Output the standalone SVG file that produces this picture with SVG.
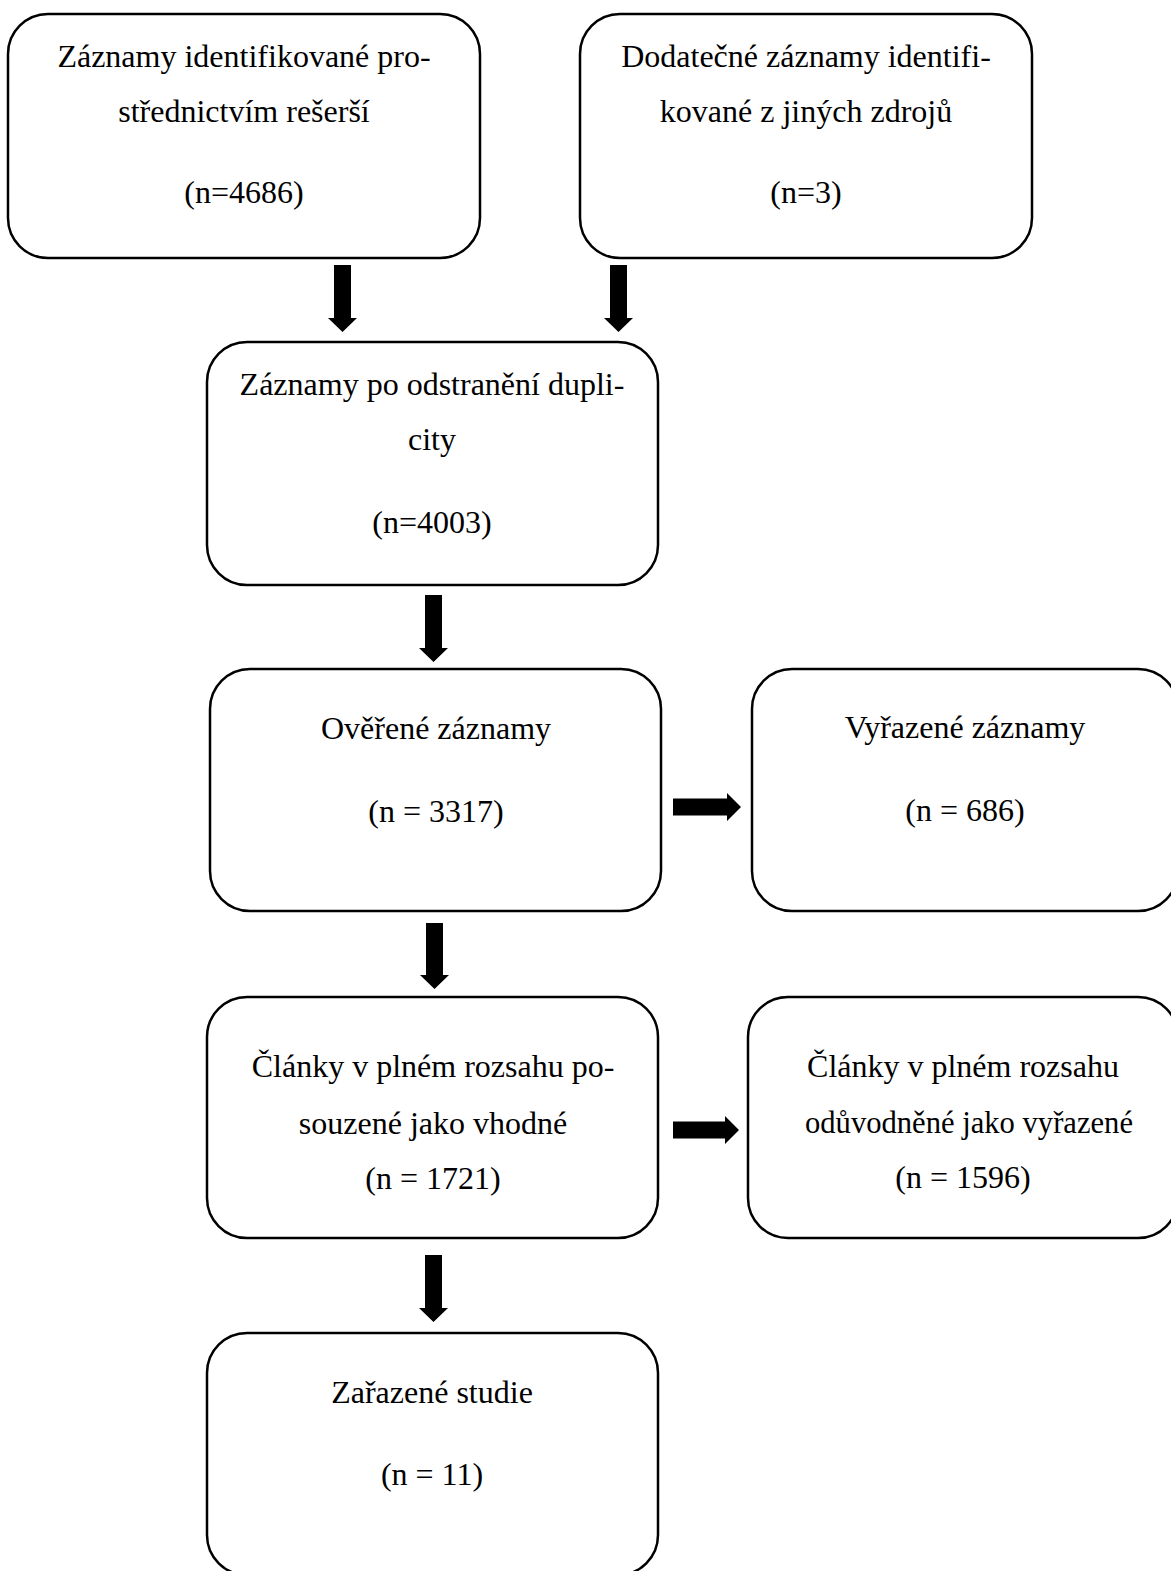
<svg xmlns="http://www.w3.org/2000/svg" width="1171" height="1571" viewBox="0 0 1171 1571">
<style>
.box{fill:#fff;stroke:#000;stroke-width:2.5}
.t{font-family:"Liberation Serif","Times New Roman",serif;font-size:32px;fill:#000;text-anchor:middle}
.arr{fill:#000}
</style>
<rect width="1171" height="1571" fill="#fff"/>
<g id="n1"><rect class="box" x="8" y="14" width="472" height="244" rx="40"/>
<text class="t" x="244" y="67">Záznamy identifikované pro-</text>
<text class="t" x="244" y="122">střednictvím rešerší</text>
<text class="t" x="244" y="203">(n=4686)</text></g>
<g id="n2"><rect class="box" x="580" y="14" width="452" height="244" rx="40"/>
<text class="t" x="806" y="67">Dodatečné záznamy identifi-</text>
<text class="t" x="806" y="122">kované z jiných zdrojů</text>
<text class="t" x="806" y="203">(n=3)</text></g>
<g id="n3"><rect class="box" x="207" y="342" width="451" height="243" rx="40"/>
<text class="t" x="432" y="395">Záznamy po odstranění dupli-</text>
<text class="t" x="432" y="450">city</text>
<text class="t" x="432" y="533">(n=4003)</text></g>
<g id="n4"><rect class="box" x="210" y="669" width="451" height="242" rx="40"/>
<text class="t" x="436" y="739">Ověřené záznamy</text>
<text class="t" x="436" y="822">(n = 3317)</text></g>
<g id="n5"><rect class="box" x="752" y="669" width="426" height="242" rx="40"/>
<text class="t" x="965" y="738">Vyřazené záznamy</text>
<text class="t" x="965" y="821">(n = 686)</text></g>
<g id="n6"><rect class="box" x="207" y="997" width="451" height="241" rx="40"/>
<text class="t" x="433" y="1077">Články v plném rozsahu po-</text>
<text class="t" x="433" y="1134">souzené jako vhodné</text>
<text class="t" x="433" y="1189">(n = 1721)</text></g>
<g id="n7"><rect class="box" x="748" y="997" width="430" height="241" rx="40"/>
<text class="t" x="963" y="1077">Články v plném rozsahu</text>
<text class="t" x="969" y="1133" textLength="328" lengthAdjust="spacingAndGlyphs">odůvodněné jako vyřazené</text>
<text class="t" x="963" y="1188">(n = 1596)</text></g>
<g id="n8"><rect class="box" x="207" y="1333" width="451" height="242" rx="40"/>
<text class="t" x="432" y="1403">Zařazené studie</text>
<text class="t" x="432" y="1485">(n = 11)</text></g>
<g id="connectors">
<polygon class="arr" points="334,265 351,265 351,318 357,318 342.5,332 328,318 334,318"/>
<polygon class="arr" points="610,265 627,265 627,318 633,318 618.5,332 604,318 610,318"/>
<polygon class="arr" points="425,595 442,595 442,648 448,648 433.5,662 419,648 425,648"/>
<polygon class="arr" points="426,923 443,923 443,975 449,975 434.5,989 420,975 426,975"/>
<polygon class="arr" points="425,1255 442,1255 442,1308 448,1308 433.5,1322 419,1308 425,1308"/>
<polygon class="arr" points="673,798.5 727,798.5 727,793 741,807 727,821 727,815.5 673,815.5"/>
<polygon class="arr" points="673,1121.5 725,1121.5 725,1116 739,1130 725,1144 725,1138.5 673,1138.5"/>
</g>
</svg>
